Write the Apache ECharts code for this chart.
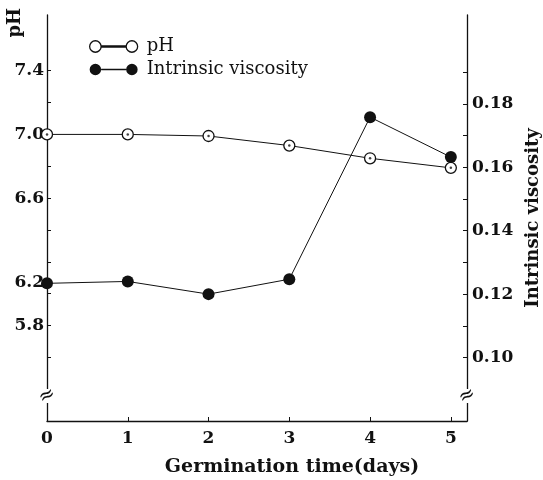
<!DOCTYPE html>
<html>
<head>
<meta charset="utf-8">
<script src="https://cdn.jsdelivr.net/npm/echarts@6/dist/echarts.min.js"></script>
<style>
  html, body { margin: 0; padding: 0; background: #fff; }
  #main { width: 543px; height: 480px; }
</style>
</head>
<body>
<div id="main"></div>
<script>
// germination time in days
const days = [0, 1, 2, 3, 4, 5]
// pH (left axis)
const phValues = [7.0, 7.0, 6.99, 6.93, 6.85, 6.79]
// intrinsic viscosity (right axis)
const viscValues = [0.1234, 0.124, 0.120, 0.1247, 0.1758, 0.1632]

const xTicks = [0, 1, 2, 3, 4, 5]
const phTicks = [5.6, 5.8, 6.0, 6.2, 6.4, 6.6, 6.8, 7.0, 7.2, 7.4]
const phLabels = [5.8, 6.2, 6.6, 7.0, 7.4]
const viscTicks = [0.10, 0.11, 0.12, 0.13, 0.14, 0.15, 0.16, 0.17, 0.18, 0.19]
const viscLabels = [0.10, 0.12, 0.14, 0.16, 0.18]

const serif = '"DejaVu Serif", "Liberation Serif", serif'

const pair = (xs, ys) => xs.map((x, i) => [x, ys[i]])

// circle - line - circle for the legend
const legendIcon = 'path://M1,6a5.5,5.5 0 1,0 11,0a5.5,5.5 0 1,0 -11,0Z M36,6a5.5,5.5 0 1,0 11,0a5.5,5.5 0 1,0 -11,0Z M12,5.4h24v1.2h-24Z'

const labelText = { fontFamily: serif, fontWeight: 'bold', fontSize: 17, color: '#111' }

let chart = echarts.init(document.getElementById('main'))

chart.setOption({
    animation: false,
    grid: { left: 47, right: 76, top: 15, bottom: 59, outerBoundsMode: 'none', containLabel: false },
    legend: {
        orient: 'vertical',
        left: 84,
        top: 32,
        itemWidth: 48,
        itemHeight: 12,
        itemGap: 4,
        icon: legendIcon,
        textStyle: { fontFamily: serif, fontSize: 18, color: '#111', padding: [0, 0, 0, 4], lineHeight: 19 },
        data: [
            { name: 'pH', itemStyle: { color: '#fff', borderColor: '#111', borderWidth: 1.3 } },
            { name: 'Intrinsic viscosity', itemStyle: { color: '#111', borderColor: '#111', borderWidth: 0 } }
        ]
    },
    xAxis: {
        type: 'value',
        min: 0,
        max: 5.2,
        splitLine: { show: false },
        axisLine: { lineStyle: { color: '#111', width: 1.3 } },
        axisTick: { inside: true, length: 4, customValues: xTicks, lineStyle: { color: '#111' } },
        axisLabel: Object.assign({ customValues: xTicks, margin: 9 }, labelText),
        name: 'Germination time(days)',
        nameLocation: 'middle',
        nameGap: 37,
        nameTextStyle: { fontFamily: serif, fontWeight: 'bold', fontSize: 19, color: '#111', padding: [0, 0, 0, 70] }
    },
    yAxis: [{
        type: 'value',
        min: 5.2,
        max: 7.75,
        splitLine: { show: false },
        axisLine: { show: true, lineStyle: { color: '#111', width: 1.3 } },
        axisTick: { show: true, inside: true, length: 4, customValues: phTicks, lineStyle: { color: '#111' } },
        axisLabel: Object.assign({
            customValues: phLabels,
            margin: 3,
            formatter: v => {
                let s = v.toFixed(1)
                // the 6.2 label sits lower in the original figure
                return Math.abs(v - 6.2) < 1e-6 ? '{gap| }\n{n|' + s + '}' : '{n|' + s + '}'
            },
            rich: {
                gap: { lineHeight: 42, fontSize: 10 },
                n: Object.assign({ lineHeight: 20 }, labelText)
            }
        }, labelText)
    }, {
        type: 'value',
        position: 'right',
        min: 0.08,
        max: 0.208,
        splitLine: { show: false },
        axisLine: { show: true, lineStyle: { color: '#111', width: 1.3 } },
        axisTick: { show: true, inside: true, length: 4, customValues: viscTicks, lineStyle: { color: '#111' } },
        axisLabel: Object.assign({
            customValues: viscLabels,
            margin: 5,
            formatter: v => v.toFixed(2)
        }, labelText),
        name: 'Intrinsic viscosity',
        nameLocation: 'middle',
        nameRotate: 90,
        nameGap: 49,
        nameTextStyle: { fontFamily: serif, fontWeight: 'bold', fontSize: 18, color: '#111' }
    }],
    series: [{
        name: 'Intrinsic viscosity',
        type: 'line',
        yAxisIndex: 1,
        data: pair(days, viscValues),
        symbol: 'circle',
        symbolSize: 12,
        lineStyle: { color: '#111', width: 1 },
        itemStyle: { color: '#111' },
        z: 3
    }, {
        name: 'pH',
        type: 'line',
        yAxisIndex: 0,
        data: pair(days, phValues),
        symbol: 'circle',
        symbolSize: 11,
        showAllSymbol: true,
        lineStyle: { color: '#111', width: 1 },
        itemStyle: { color: '#fff', borderColor: '#111', borderWidth: 1.3 },
        z: 4
    }, {
        // center dots of the open pH circles
        name: 'pH',
        type: 'scatter',
        yAxisIndex: 0,
        data: pair(days, phValues),
        symbolSize: 2.5,
        itemStyle: { color: '#111' },
        silent: true,
        z: 5
    }],
    graphic: [
        { type: 'text', left: 6, top: 8, rotation: Math.PI / 2,
          style: { text: 'pH', font: 'bold 18px ' + serif, fill: '#111' } },
        // axis break marks
        { type: 'rect', shape: { x: 43, y: 389, width: 8, height: 14 }, style: { fill: '#fff' }, z: 100 },
        { type: 'text', x: 47, y: 396, rotation: 0.5, z: 101,
          style: { text: '≈', font: '20px ' + serif, fill: '#111', align: 'center', verticalAlign: 'middle' } },
        { type: 'rect', shape: { x: 463, y: 389, width: 8, height: 14 }, style: { fill: '#fff' }, z: 100 },
        { type: 'text', x: 467, y: 396, rotation: 0.5, z: 101,
          style: { text: '≈', font: '20px ' + serif, fill: '#111', align: 'center', verticalAlign: 'middle' } }
    ]
})

window.onresize = function () {
    chart.resize()
}
</script>
</body>
</html>
